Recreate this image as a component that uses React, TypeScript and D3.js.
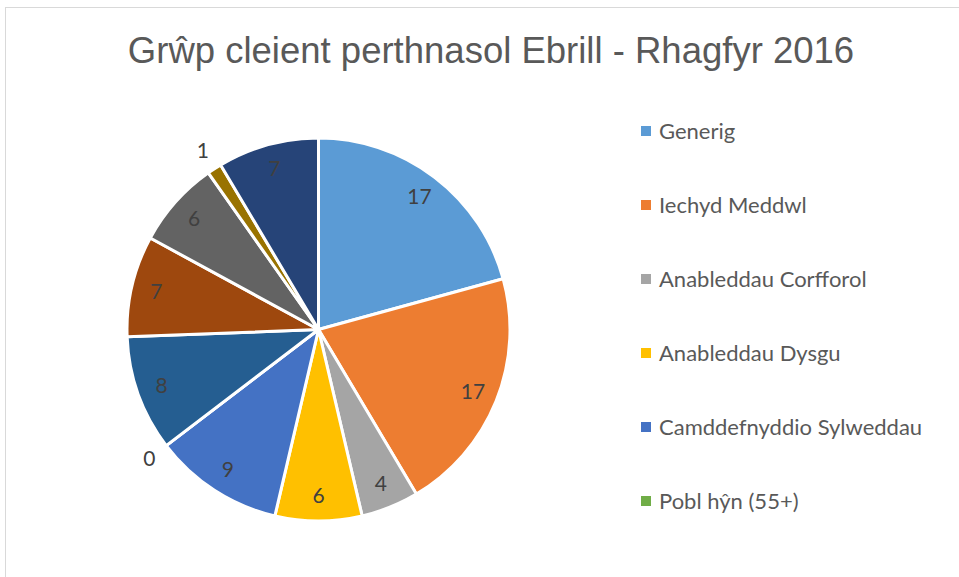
import React, { useEffect, useRef } from 'react';
import * as d3 from 'd3';

const title = 'Grŵp cleient perthnasol Ebrill - Rhagfyr 2016';

// only the first six names are visible in the legend
const categories = [
  'Generig',
  'Iechyd Meddwl',
  'Anableddau Corfforol',
  'Anableddau Dysgu',
  'Camddefnyddio Sylweddau',
  'Pobl hŷn (55+)',
  'Categori 7',
  'Categori 8',
  'Categori 9',
  'Categori 10',
  'Categori 11',
];
const values = [17, 17, 4, 6, 9, 0, 8, 7, 6, 1, 7];
const colors = [
  '#5B9BD5', '#ED7D31', '#A5A5A5', '#FFC000', '#4472C4', '#70AD47',
  '#255E91', '#9E480E', '#636363', '#997300', '#264478',
];
const legendCount = 6;

const W = 959;
const H = 577;

const App = () => {
  const ref = useRef<SVGSVGElement>(null);

  useEffect(() => {
    const svg = d3.select(ref.current);
    svg.selectAll('*').remove();

    svg.append('rect')
      .attr('x', 5.5).attr('y', 7.5)
      .attr('width', W + 10).attr('height', H + 10)
      .attr('fill', '#fff')
      .attr('stroke', '#d9d9d9');

    svg.append('text')
      .attr('x', 491).attr('y', 63)
      .attr('text-anchor', 'middle')
      .attr('font-family', 'Liberation Sans, Arial, sans-serif')
      .attr('font-size', 36.5)
      .attr('fill', '#595959')
      .text(title);

    const cx = 318.5, cy = 329.5, r = 191.5;
    const data = values.map((v, i) => ({ name: categories[i], value: v, color: colors[i] }));
    const pie = d3.pie<any>().sort(null).value(d => d.value);
    const arcs = pie(data);
    const arc = d3.arc<any>().innerRadius(0).outerRadius(r);
    const inLabel = d3.arc<any>().innerRadius(r * 0.87).outerRadius(r * 0.87);
    const outLabel = d3.arc<any>().innerRadius(r * 1.11).outerRadius(r * 1.11);

    const g = svg.append('g').attr('transform', `translate(${cx},${cy})`);

    g.selectAll('path')
      .data(arcs)
      .enter().append('path')
      .attr('d', arc)
      .attr('fill', d => d.data.color)
      .attr('stroke', '#fff')
      .attr('stroke-width', 3)
      .attr('stroke-linejoin', 'round');

    g.selectAll('text.lbl')
      .data(arcs)
      .enter().append('text')
      .attr('class', 'lbl')
      .attr('transform', d => `translate(${(d.data.value <= 1 ? outLabel : inLabel).centroid(d)})`)
      .attr('text-anchor', 'middle')
      .attr('dy', '0.35em')
      .attr('font-family', 'Lato, Carlito, sans-serif')
      .attr('font-size', 21)
      .attr('fill', '#404040')
      .text(d => d.data.value);

    const legend = svg.append('g')
      .selectAll('g')
      .data(data.slice(0, legendCount))
      .enter().append('g')
      .attr('transform', (d, i) => `translate(641,${131 + i * 74})`);

    legend.append('rect')
      .attr('x', 0).attr('y', -5)
      .attr('width', 10).attr('height', 10)
      .attr('fill', d => d.color);

    legend.append('text')
      .attr('x', 18).attr('dy', '0.36em')
      .attr('font-family', 'Lato, Carlito, sans-serif')
      .attr('font-size', 22)
      .attr('fill', '#595959')
      .text(d => d.name);
  }, []);

  return (
    <svg ref={ref} width={W} height={H} style={{ position: 'absolute', left: 0, top: 0 }} />
  );
};

export default App;
